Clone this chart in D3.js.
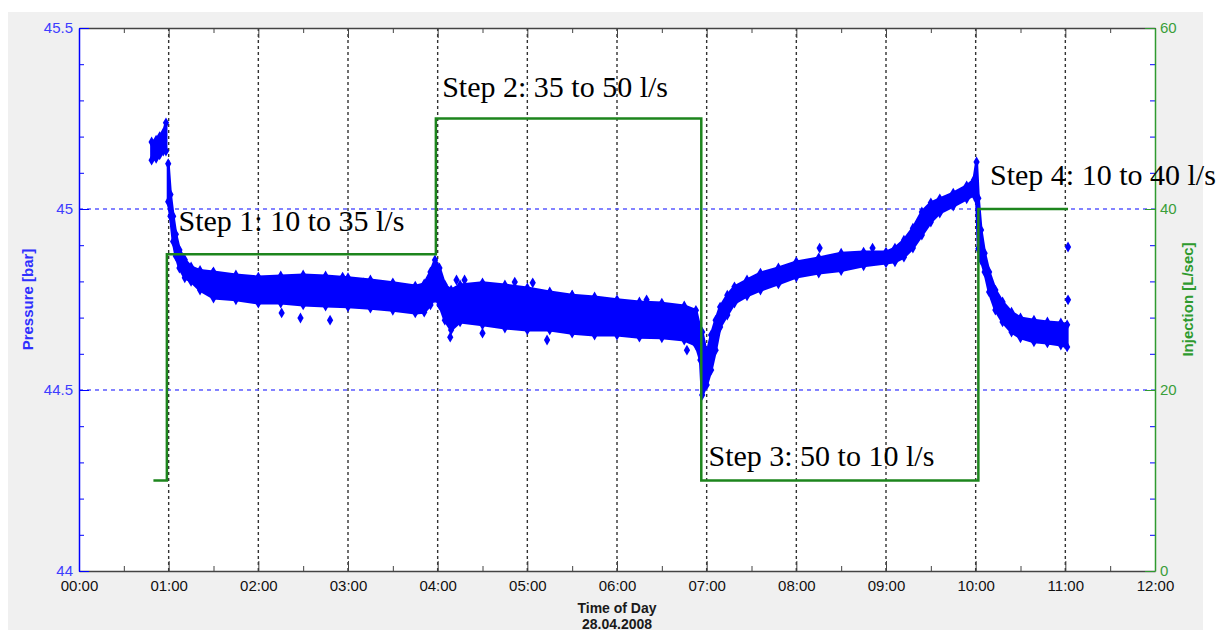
<!DOCTYPE html>
<html>
<head>
<meta charset="utf-8">
<script src="https://cdn.jsdelivr.net/npm/d3@7"></script>
<style>
  body { margin: 0; background: #fff; }
  svg { display: block; }
  .tick text { font-family: "Liberation Sans", Arial, sans-serif; }
</style>
</head>
<body>
<div id="chart"></div>
<script>
// pressure band: time [h], upper and lower edge [bar]
// (null row = gap in the cloud)
const bandTime = [0.81, 0.86, 0.90, 0.94, 0.97, null,
  0.995, 1.02, 1.05, 1.08, 1.12, 1.18, 1.25, 1.35, 1.5, 1.75, 2.0, 2.25, 2.5, 2.75, 3.0, 3.25, 3.5, 3.75, 3.85, 3.92, 3.97,
  4.02, 4.08, 4.15, 4.25, 4.5, 4.75, 5.0, 5.25, 5.5, 5.75, 6.0, 6.25, 6.5, 6.75, 6.88, 6.93, 6.95,
  7.0, 7.05, 7.1, 7.15, 7.23, 7.31, 7.45, 7.6, 7.8, 8.0, 8.25, 8.5, 8.75, 9.0, 9.1, 9.2, 9.3, 9.4, 9.5, 9.6, 9.75, 9.9, 9.98, 10.01,
  10.03, 10.06, 10.1, 10.15, 10.22, 10.3, 10.4, 10.5, 10.65, 10.8, 10.95, 11.02];
const bandHigh = [45.185, 45.19, 45.20, 45.21, 45.238, null,
  45.125, 45.04, 44.98, 44.93, 44.887, 44.86, 44.84, 44.83, 44.826, 44.818, 44.812, 44.815, 44.818, 44.815, 44.81, 44.804, 44.796, 44.787, 44.793, 44.826, 44.859,
  44.837, 44.79, 44.776, 44.79, 44.796, 44.79, 44.782, 44.771, 44.762, 44.757, 44.749, 44.743, 44.74, 44.732, 44.72, 44.666, 44.66,
  44.597, 44.652, 44.693, 44.729, 44.762, 44.785, 44.804, 44.823, 44.837, 44.854, 44.865, 44.878, 44.881, 44.881, 44.892, 44.914, 44.947, 44.992, 45.017, 45.028, 45.044, 45.064, 45.08, 45.13,
  45.03, 44.942, 44.878, 44.826, 44.776, 44.743, 44.715, 44.699, 44.693, 44.688, 44.685, 44.68];
const bandLow = [45.135, 45.14, 45.15, 45.16, 45.16, null,
  45.02, 44.98, 44.91, 44.87, 44.837, 44.81, 44.80, 44.776, 44.754, 44.749, 44.740, 44.74, 44.735, 44.732, 44.73, 44.726, 44.72, 44.713, 44.715, 44.735, 44.754,
  44.735, 44.693, 44.666, 44.688, 44.68, 44.671, 44.666, 44.666, 44.657, 44.652, 44.652, 44.646, 44.644, 44.638, 44.624, 44.583, 44.486,
  44.514, 44.555, 44.61, 44.674, 44.707, 44.74, 44.76, 44.776, 44.793, 44.812, 44.823, 44.83, 44.843, 44.851, 44.854, 44.867, 44.892, 44.928, 44.964, 44.989, 45.008, 45.028, 45.039, 45.025,
  44.89, 44.859, 44.826, 44.771, 44.721, 44.688, 44.66, 44.644, 44.633, 44.63, 44.624, 44.619];

// single stray readings
const strayTime = [1.49, 2.26, 2.47, 2.80, 2.94, 3.17, 4.14, 4.21, 4.30, 4.5, 4.86, 5.06, 5.22, 5.27, 5.5, 6.33, 6.78, 8.26, 8.85, 11.03, 11.03];
const strayP    = [44.823, 44.713, 44.699, 44.693, 44.812, 44.796, 44.646, 44.804, 44.804, 44.657, 44.798, 44.796, 44.638, 44.762, 44.762, 44.749, 44.61, 44.892, 44.892, 44.895, 44.749];

// injection rate steps
const injTime  = [0.83, 0.98, 3.98, 6.94, 10.03, 11.03];
const injValue = [10, 35, 50, 10, 40, 40];

const hourTicks = d3.range(0, 13);
const halfTicks = d3.range(0.5, 12, 1);
const pTicks = d3.range(0, 16).map(i => 44 + i * 0.1);
const pGrid = [44.5, 45];

const notes = [
  {text: 'Step 1: 10 to 35 l/s', t: 1.11, p: 44.94},
  {text: 'Step 2: 35 to 50 l/s', t: 4.05, p: 45.31},
  {text: 'Step 3: 50 to 10 l/s', t: 7.02, p: 44.29},
  {text: 'Step 4: 10 to 40 l/s', t: 10.16, p: 45.066}
];

const W = 1225, H = 630;
const margin = [28, 59, 79, 70]; // top, bottom, left, right
const x = d3.scaleLinear([0, 12], [margin[2], W - margin[3]]);
const yP = d3.scaleLinear([44, 45.5], [H - margin[1], margin[0]]);
const yI = d3.scaleLinear([0, 60], [H - margin[1], margin[0]]);

const blue = '#0000ff', green = '#1d851d';

const svg = d3.select('#chart').append('svg').attr('width', W).attr('height', H);

svg.append('rect').attr('x', 8).attr('y', 12).attr('width', 1195).attr('height', H - 12).attr('fill', '#f0f0f0');
svg.append('rect')
  .attr('x', x(0)).attr('y', yP(45.5))
  .attr('width', x(12) - x(0)).attr('height', yP(44) - yP(45.5))
  .attr('fill', '#fff');

svg.append('clipPath').attr('id', 'plot').append('rect')
  .attr('x', x(0)).attr('y', yP(45.5))
  .attr('width', x(12) - x(0)).attr('height', yP(44) - yP(45.5));

// grid
svg.append('g').selectAll('line').data(hourTicks.slice(1, 12)).join('line')
  .attr('x1', d => x(d)).attr('x2', d => x(d))
  .attr('y1', yP(45.5)).attr('y2', yP(44))
  .attr('stroke', '#333').attr('stroke-width', 1.4).attr('stroke-dasharray', '3,3');
svg.append('g').selectAll('line').data(pGrid).join('line')
  .attr('x1', x(0)).attr('x2', x(12))
  .attr('y1', d => yP(d)).attr('y2', d => yP(d))
  .attr('stroke', '#5b5bff').attr('stroke-width', 1.4).attr('stroke-dasharray', '4,4');

// pressure cloud
const band = bandTime.map((t, i) => ({t, hi: bandHigh[i], lo: bandLow[i]}));
const plot = svg.append('g').attr('clip-path', 'url(#plot)');
plot.append('path').datum(band)
  .attr('d', d3.area().defined(d => d.t != null)
    .x(d => x(d.t)).y0(d => yP(d.lo)).y1(d => yP(d.hi)))
  .attr('fill', blue).attr('stroke', blue).attr('stroke-width', 3).attr('stroke-linejoin', 'round');

const edges = band.filter(d => d.t != null).flatMap(d => [[d.t, d.hi], [d.t, d.lo]])
  .concat(strayTime.map((t, i) => [t, strayP[i]]));
plot.append('g').selectAll('path').data(edges).join('path')
  .attr('transform', d => `translate(${x(d[0])},${yP(d[1])})`)
  .attr('d', d3.symbol(d3.symbolDiamond, 34))
  .attr('fill', blue);

// injection steps
const inj = injTime.map((t, i) => [t, injValue[i]]);
plot.append('path').datum(inj)
  .attr('d', d3.line().curve(d3.curveStepAfter).x(d => x(d[0])).y(d => yI(d[1])))
  .attr('fill', 'none').attr('stroke', green).attr('stroke-width', 2.5);

// axes
const fmtHour = d => d3.format('02d')(d) + ':00';
const axisB = svg.append('g').attr('transform', `translate(0,${yP(44)})`)
  .call(d3.axisBottom(x).tickValues(hourTicks).tickFormat(fmtHour).tickSize(-10).tickSizeOuter(0).tickPadding(9));
axisB.attr('color', '#444');
axisB.selectAll('text').attr('fill', '#111').style('font-size', '15px');
axisB.select('.domain').attr('stroke-width', 1.5);
svg.append('g').attr('transform', `translate(0,${yP(44)})`).attr('color', '#444')
  .call(d3.axisBottom(x).tickValues(halfTicks).tickFormat('').tickSize(-5).tickSizeOuter(0))
  .select('.domain').remove();

const axisT = svg.append('g').attr('transform', `translate(0,${yP(45.5)})`).attr('color', '#444')
  .call(d3.axisTop(x).tickValues(hourTicks).tickFormat('').tickSize(-10).tickSizeOuter(0));
axisT.select('.domain').attr('stroke-width', 1.5);
svg.append('g').attr('transform', `translate(0,${yP(45.5)})`).attr('color', '#444')
  .call(d3.axisTop(x).tickValues(halfTicks).tickFormat('').tickSize(-5).tickSizeOuter(0))
  .select('.domain').remove();

const isHalf = v => Math.abs(v * 2 - Math.round(v * 2)) < 1e-6;
const axisL = svg.append('g').attr('transform', `translate(${x(0)},0)`).attr('color', blue)
  .call(d3.axisLeft(yP).tickValues(pTicks).tickSize(-5).tickSizeOuter(0).tickPadding(6)
    .tickFormat(d => isHalf(d) ? String(+d.toFixed(1)) : ''));
axisL.selectAll('.tick line').filter(d => isHalf(d)).attr('x2', 10);
axisL.selectAll('text').attr('fill', '#3d3dff').style('font-size', '15px');
axisL.select('.domain').attr('stroke-width', 1.5);

svg.append('g').attr('transform', `translate(${x(12)},0)`).attr('color', blue)
  .call(d3.axisRight(yP).tickValues(pTicks).tickFormat('').tickSize(-5).tickSizeOuter(0))
  .select('.domain').remove();
const axisR = svg.append('g').attr('transform', `translate(${x(12)},0)`).attr('color', '#2f9a2f')
  .call(d3.axisRight(yI).tickValues([0, 20, 40, 60]).tickSize(-10).tickSizeOuter(0).tickPadding(5));
axisR.selectAll('text').attr('fill', '#3a9e3a').style('font-size', '15px');
axisR.select('.domain').attr('stroke-width', 1.5);

// axis titles
svg.append('text')
  .attr('transform', `translate(33,${(yP(44) + yP(45.5)) / 2})rotate(-90)`)
  .attr('text-anchor', 'middle')
  .style('font', 'bold 15px "Liberation Sans", Arial, sans-serif')
  .attr('fill', '#2f2fff').text('Pressure [bar]');
svg.append('text')
  .attr('transform', `translate(1193,${(yP(44) + yP(45.5)) / 2})rotate(-90)`)
  .attr('text-anchor', 'middle')
  .style('font', 'bold 15px "Liberation Sans", Arial, sans-serif')
  .attr('fill', '#2e9a2e').text('Injection [L/sec]');
svg.append('text').attr('x', (x(0) + x(12)) / 2).attr('y', 613)
  .attr('text-anchor', 'middle')
  .style('font', 'bold 14px "Liberation Sans", Arial, sans-serif')
  .attr('fill', '#1a1a1a').text('Time of Day');
svg.append('text').attr('x', (x(0) + x(12)) / 2).attr('y', 629)
  .attr('text-anchor', 'middle')
  .style('font', 'bold 14px "Liberation Sans", Arial, sans-serif')
  .attr('fill', '#1a1a1a').text('28.04.2008');

// step annotations
svg.append('g').selectAll('text').data(notes).join('text')
  .attr('x', d => x(d.t)).attr('y', d => yP(d.p))
  .style('font', '30px "Liberation Serif", "Times New Roman", serif')
  .attr('fill', '#000')
  .text(d => d.text);
</script>
</body>
</html>
